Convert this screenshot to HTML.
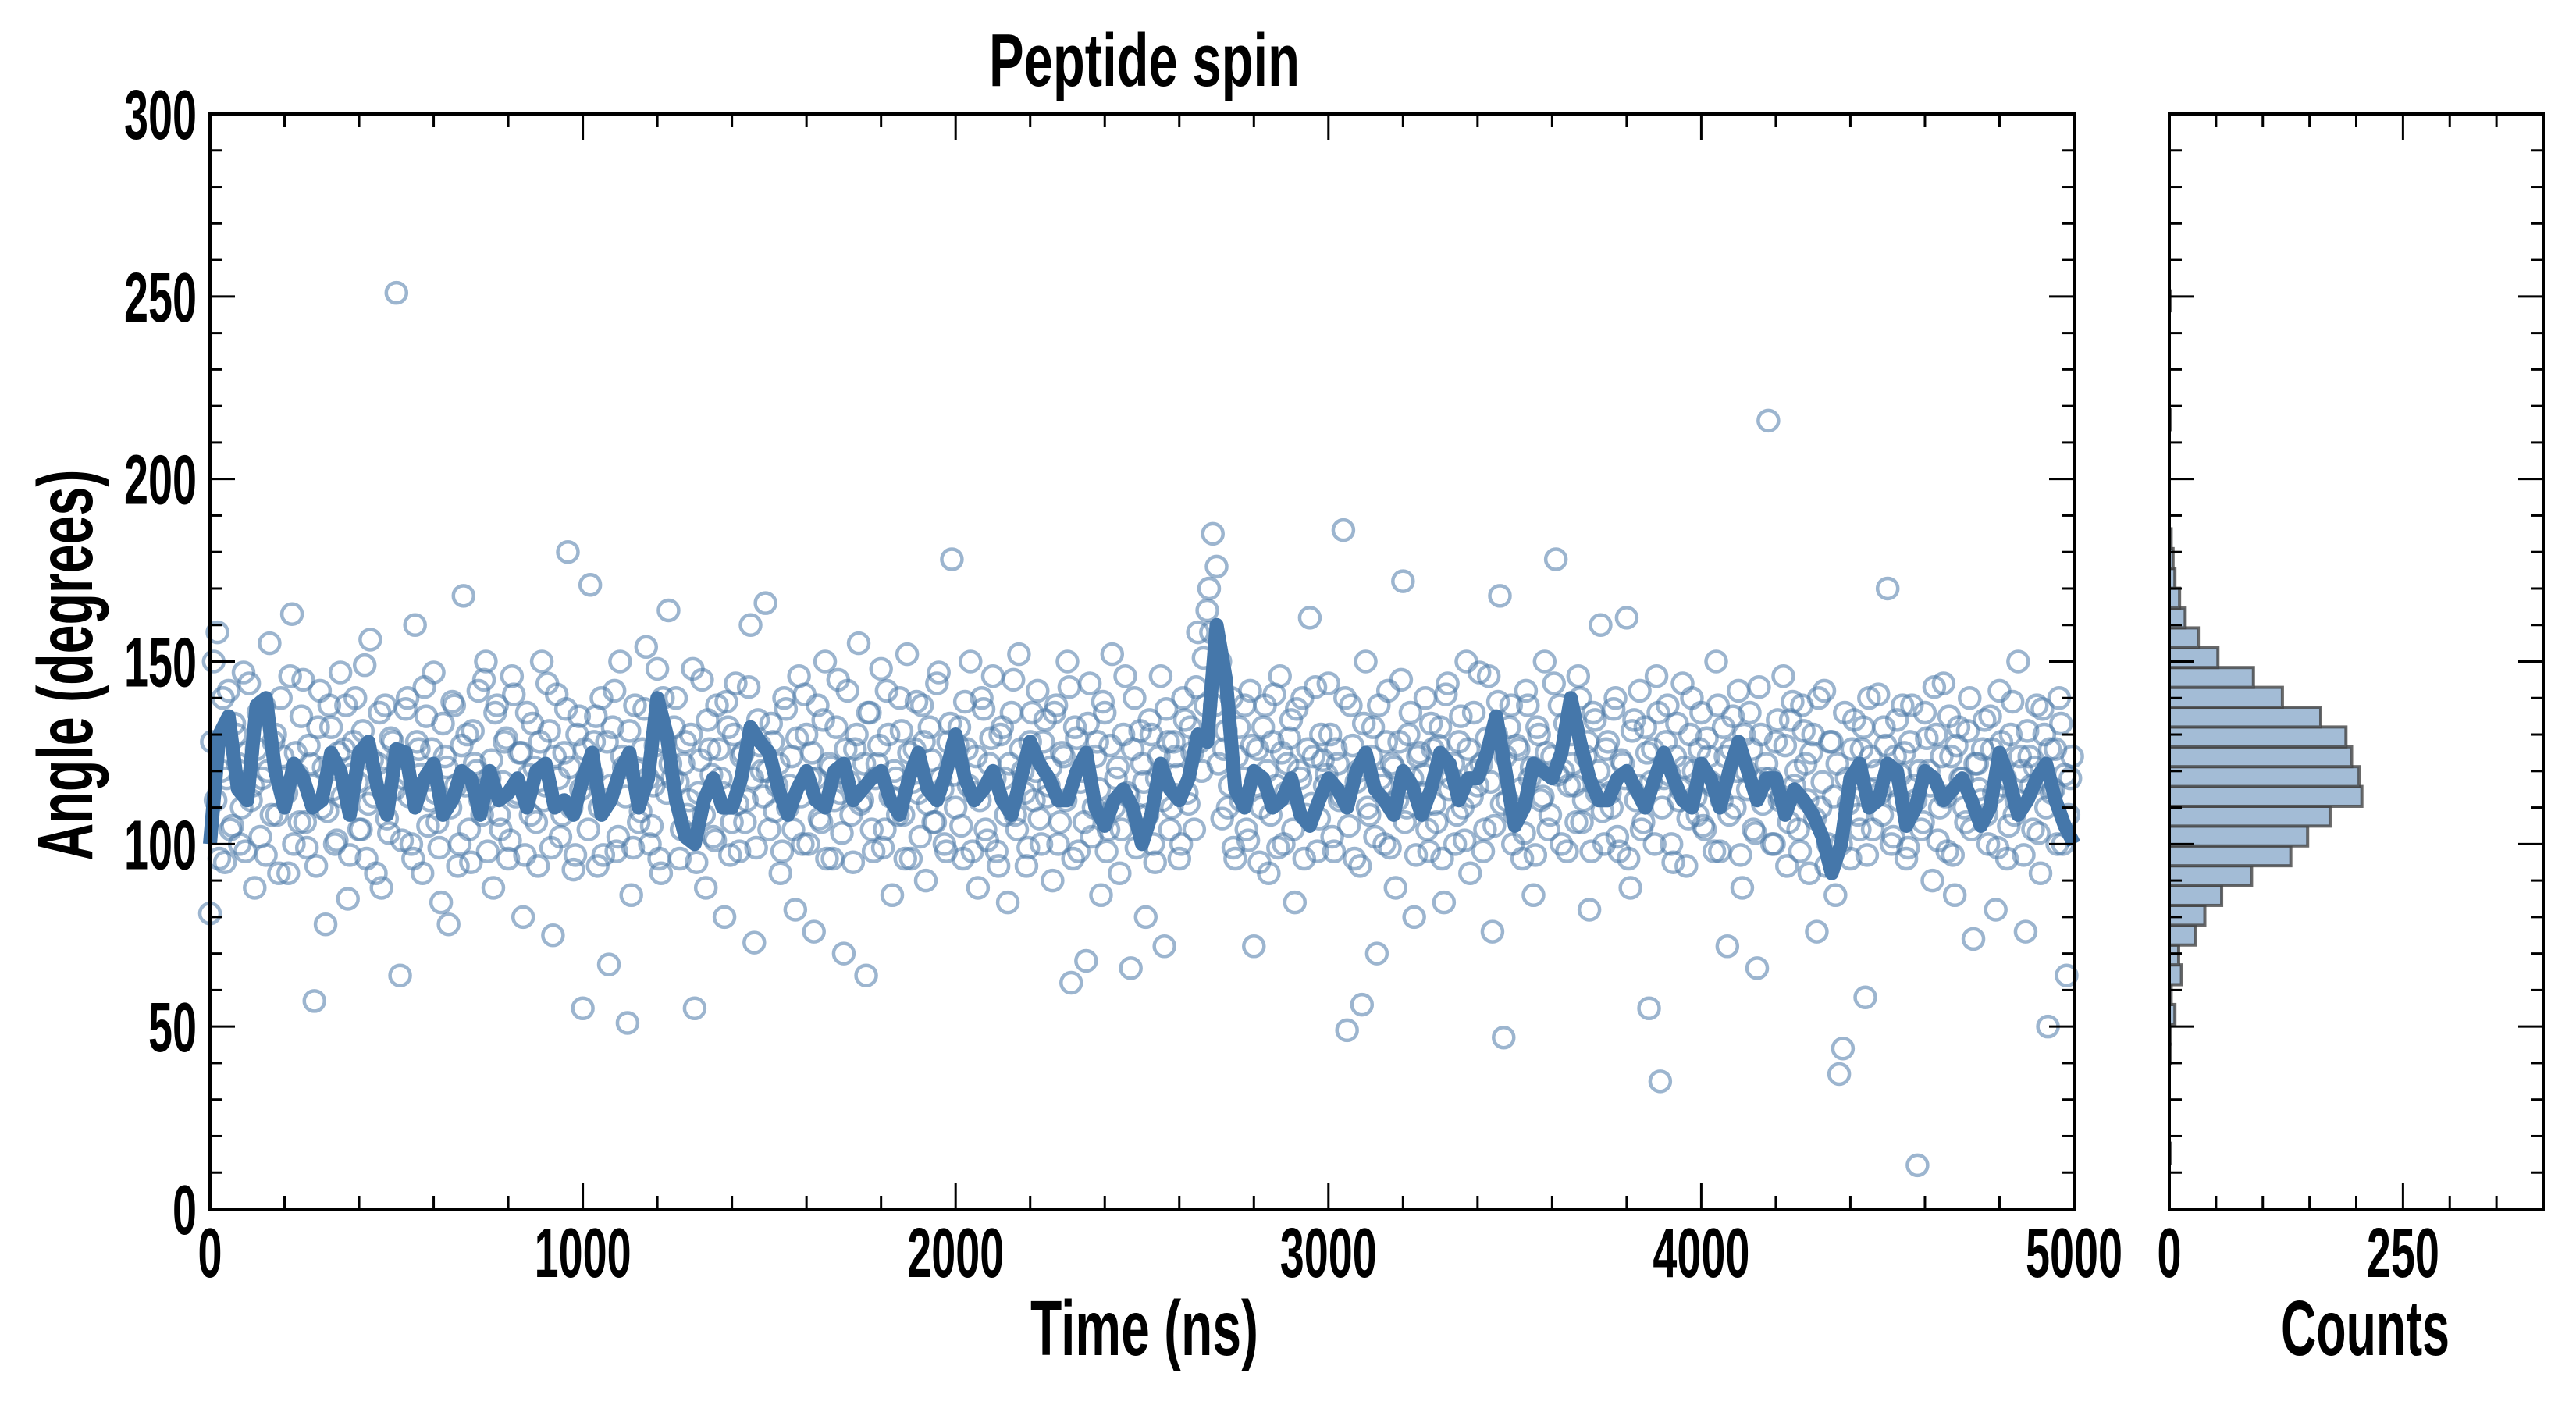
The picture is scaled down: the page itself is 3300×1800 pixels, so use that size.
<!DOCTYPE html>
<html><head><meta charset="utf-8"><style>
html,body{margin:0;padding:0;background:#fff}
svg{display:block}
text{font-family:"Liberation Sans Narrow","Liberation Sans",sans-serif;font-weight:bold;fill:#000}
</style></head><body>
<svg id="chart" width="3300" height="1800" viewBox="0 0 3300 1800" xmlns="http://www.w3.org/2000/svg">
<g id="scatter"></g>
<g id="line"></g>
<g id="hist"></g>
<g id="axes"></g>
<text x="1466" y="110" font-size="96" text-anchor="middle" textLength="398" lengthAdjust="spacingAndGlyphs">Peptide spin</text>
<text x="1466" y="1736" font-size="100" text-anchor="middle" textLength="292" lengthAdjust="spacingAndGlyphs">Time (ns)</text>
<text x="3030" y="1736" font-size="100" text-anchor="middle" textLength="216" lengthAdjust="spacingAndGlyphs">Counts</text>
<text x="0" y="0" font-size="100" text-anchor="middle" textLength="501" lengthAdjust="spacingAndGlyphs" transform="translate(118,852) rotate(-90)">Angle (degrees)</text>
</svg>
<script>
const scatterStep = 10;
const scatterAngles = [
81,150,158,120,95,142,105,130,100,147,125,112,88,136,118,97,155,128,108,140,118,92,163,125,106,
145,99,122,57,132,110,78,138,115,101,147,126,85,119,140,104,131,96,156,113,122,88,138,103,128,
251,64,118,140,100,160,126,92,135,112,147,106,84,124,78,139,116,100,168,130,95,122,142,108,150,
118,88,138,104,128,96,146,113,125,80,136,108,121,94,150,116,131,75,141,102,125,180,110,97,135,
55,118,171,128,94,140,112,67,132,98,150,121,51,86,138,106,126,154,100,116,148,92,128,164,118,
140,96,122,108,130,55,114,145,88,126,102,138,118,80,132,106,144,98,125,112,160,73,134,120,166,
104,128,116,92,140,110,124,82,146,100,130,118,76,138,106,150,122,96,132,114,70,142,108,126,155,
112,64,136,98,122,148,104,130,86,118,140,108,152,96,126,114,138,90,132,106,144,118,100,128,178,
110,132,96,126,150,114,88,140,104,122,146,98,130,118,84,136,108,152,120,94,128,112,142,100,134,
116,90,138,106,124,150,62,132,98,120,68,144,110,128,86,136,104,152,118,92,130,114,66,140,108,
122,80,134,100,118,146,72,128,110,124,96,140,114,132,104,158,120,138,170,185,176,150,126,110,140,
96,132,118,104,142,72,126,110,138,92,128,116,146,100,122,134,84,120,140,108,162,124,98,130,116,
144,102,126,112,186,49,138,96,120,56,150,108,132,70,118,100,142,122,88,128,172,110,136,80,124,
114,140,98,126,106,132,84,144,118,100,128,110,150,92,136,116,122,104,146,76,130,168,47,112,138,
108,126,96,142,118,86,132,112,150,104,124,178,138,120,98,130,116,146,106,124,82,136,114,160,100,
128,110,140,98,122,162,88,134,116,104,132,55,126,146,35,118,138,100,124,112,144,94,130,120,108,
136,104,124,116,150,98,132,72,126,110,142,88,120,136,104,66,130,118,216,100,128,112,146,94,134,
116,104,138,122,92,130,76,110,142,100,128,86,37,44,118,96,134,108,126,58,140,104,120,114,132,
170,100,124,112,138,96,128,116,12,104,136,120,90,130,110,144,98,124,86,132,118,106,140,74,122,
112,134,100,126,82,142,116,96,130,108,150,120,76,124,104,138,92,130,50,114,126,140,100,64,118];
const scatterAngles2 = [
128,112,96,140,118,104,133,122,110,98,144,116,126,102,138,120,108,130,92,124,114,146,100,119,135,
106,127,116,94,142,121,109,132,100,125,113,138,97,128,117,104,149,111,123,92,136,118,107,129,115,
124,101,137,113,96,128,119,143,105,126,114,99,133,121,110,138,94,127,116,104,131,120,112,145,98,
123,136,108,117,129,101,141,114,125,97,119,133,106,128,112,144,99,124,118,108,137,121,93,130,115,
126,104,119,135,110,97,128,116,142,102,124,113,131,99,120,109,137,118,105,127,96,140,114,122,132,
117,104,128,112,148,95,123,108,134,119,101,126,114,139,97,130,111,124,106,143,118,99,127,113,120,
133,109,122,98,137,116,104,129,113,141,100,125,118,107,134,96,121,112,145,103,126,117,95,130,111,
122,136,104,118,127,99,142,113,120,108,131,96,125,117,139,102,128,111,123,106,147,115,98,133,119,
127,105,139,116,98,124,112,137,101,129,118,94,132,108,122,145,104,126,114,99,136,120,107,128,113,
121,136,100,125,112,143,96,129,117,106,133,102,124,115,139,98,127,110,121,104,146,113,126,99,131,
117,108,130,95,124,112,137,104,128,119,100,134,111,125,143,128,151,164,158,138,122,107,131,116,99,
124,112,138,101,127,116,95,132,120,108,141,99,125,114,129,104,137,118,96,126,111,143,107,123,119,
130,98,122,113,140,105,127,117,94,133,110,124,102,138,116,128,99,121,112,145,106,130,118,97,125,
119,104,133,111,127,96,141,115,122,108,135,101,126,113,120,147,98,129,117,105,139,111,124,132,100,
127,115,103,138,121,97,130,113,125,108,144,119,100,133,116,122,106,140,112,128,98,134,120,109,126,
114,137,102,123,118,96,131,112,142,106,125,117,100,136,110,128,119,95,133,115,121,107,140,113,126,
105,129,117,98,138,112,124,108,135,120,97,130,115,126,103,143,111,122,118,100,134,113,127,106,139,
120,98,131,112,125,107,140,117,94,128,113,122,100,136,111,126,118,104,132,97,124,115,141,108,127,
116,102,134,119,125,99,138,112,120,106,129,116,143,101,124,113,135,97,127,118,110,131,104,122,115,
126,108,135,114,99,128,118,105,139,112,124,97,131,116,121,103,137,110,126,115,100,133,119,108,124];
const lineStep = 25;
const lineAngles = [100,130,135,115,112,138,140,120,110,122,118,110,112,125,120,108,125,128,115,108,
126,125,110,118,122,108,112,120,118,108,120,112,114,118,110,120,122,110,112,108,
118,125,108,112,120,125,110,118,140,130,112,102,100,112,118,110,110,118,132,128,
125,115,108,115,120,112,110,120,122,112,115,118,120,112,108,118,125,115,112,120,
130,118,112,115,120,112,108,118,128,122,118,112,112,120,125,110,105,112,115,110,
100,108,122,115,112,118,130,128,160,145,115,110,120,118,110,112,118,108,105,112,
118,115,110,120,125,115,112,108,120,116,108,115,125,122,112,118,118,125,135,120,
105,110,122,120,118,125,140,128,118,112,112,118,120,115,110,118,125,118,112,110,
122,118,110,120,128,120,112,118,118,108,115,112,108,102,92,100,118,122,110,112,
122,120,105,110,120,118,112,115,118,112,105,110,125,118,108,112,118,122,112,105,100];
const binStart = 12.6;
const binWidth = 5.43;
const binCounts = [1,0,0,0,0,1,1,6,2,13,10,28,38,56,88,130,148,172,206,203,195,189,162,121,90,52,31,17,11,6,4,2,0,0,0,0,0,1,0,0,0,0,0,1];
const xTicks = [0,1000,2000,3000,4000,5000];
const yTicks = [0,50,100,150,200,250,300];
const histTicks = [0,250];

const NS='http://www.w3.org/2000/svg';
const L=269,R=2657,T=146,B=1549,HL=2779,HR=3258;
const xs=t=>L+(t/5000)*(R-L);
const ys=a=>B-(a/300)*(B-T);
const hx=c=>HL+(c/400)*(HR-HL);
function mk(tag,attrs,parent){const e=document.createElementNS(NS,tag);for(const k in attrs)e.setAttribute(k,attrs[k]);parent.appendChild(e);return e;}

const sg=document.getElementById('scatter');
function drawScatter(arr,offset){
  arr.forEach((a,i)=>{
    const c=mk('circle',{cx:xs(i*scatterStep+offset),cy:ys(a),r:13,fill:'none',stroke:'#4a78a8','stroke-opacity':0.55,'stroke-width':4.5},sg);
    
    
  });
}
drawScatter(scatterAngles,0);
drawScatter(scatterAngles2,5);
const lg=document.getElementById('line');
const pl=mk('polyline',{points:lineAngles.map((a,i)=>xs(i*lineStep)+','+ys(a)).join(' '),fill:'none',stroke:'#4577aa','stroke-width':18,'stroke-linejoin':'round'},lg);



const hg=document.getElementById('hist');
binCounts.forEach((c,i)=>{
  if(c<=0)return;
  const y0=ys(binStart+(i+1)*binWidth),y1=ys(binStart+i*binWidth);
  const r=mk('rect',{x:HL,y:y0,width:hx(c)-HL,height:y1-y0,fill:'#a3bcd6',stroke:'#444','stroke-opacity':0.8,'stroke-width':4},hg);
  
  
});

const ax=document.getElementById('axes');
function frame(x0,x1){const f=mk('rect',{x:x0,y:T,width:x1-x0,height:B-T,fill:'none',stroke:'#000','stroke-width':4},ax);
  }
frame(L,R);frame(HL,HR);
function line(x1,y1,x2,y2){mk('line',{x1,y1,x2,y2,stroke:'#000','stroke-width':3},ax);}
for(let t=0;t<=5000;t+=200){const x=xs(t),len=t%1000===0?33:17;line(x,B,x,B-len);line(x,T,x,T+len);}
for(let a=0;a<=300;a+=10){const y=ys(a),len=a%50===0?32:16;line(L,y,L+len,y);line(R,y,R-len,y);line(HL,y,HL+len,y);line(HR,y,HR-len,y);}
for(let c=0;c<=400;c+=50){const x=hx(c),len=c%250===0?33:17;line(x,B,x,B-len);line(x,T,x,T+len);}
function lab(str,x,y,anchor,name){const t=mk('text',{x,y,'font-size':90,'text-anchor':anchor,textLength:str.length*31,lengthAdjust:'spacingAndGlyphs'},ax);t.textContent=str;
  }
xTicks.forEach(t=>lab(String(t),xs(t),1636,'middle','x-tick-label'));
yTicks.forEach(a=>lab(String(a),252,ys(a)+32,'end','y-tick-label'));
histTicks.forEach(c=>lab(String(c),hx(c),1636,'middle','hist-tick-label'));
</script>
</body></html>
